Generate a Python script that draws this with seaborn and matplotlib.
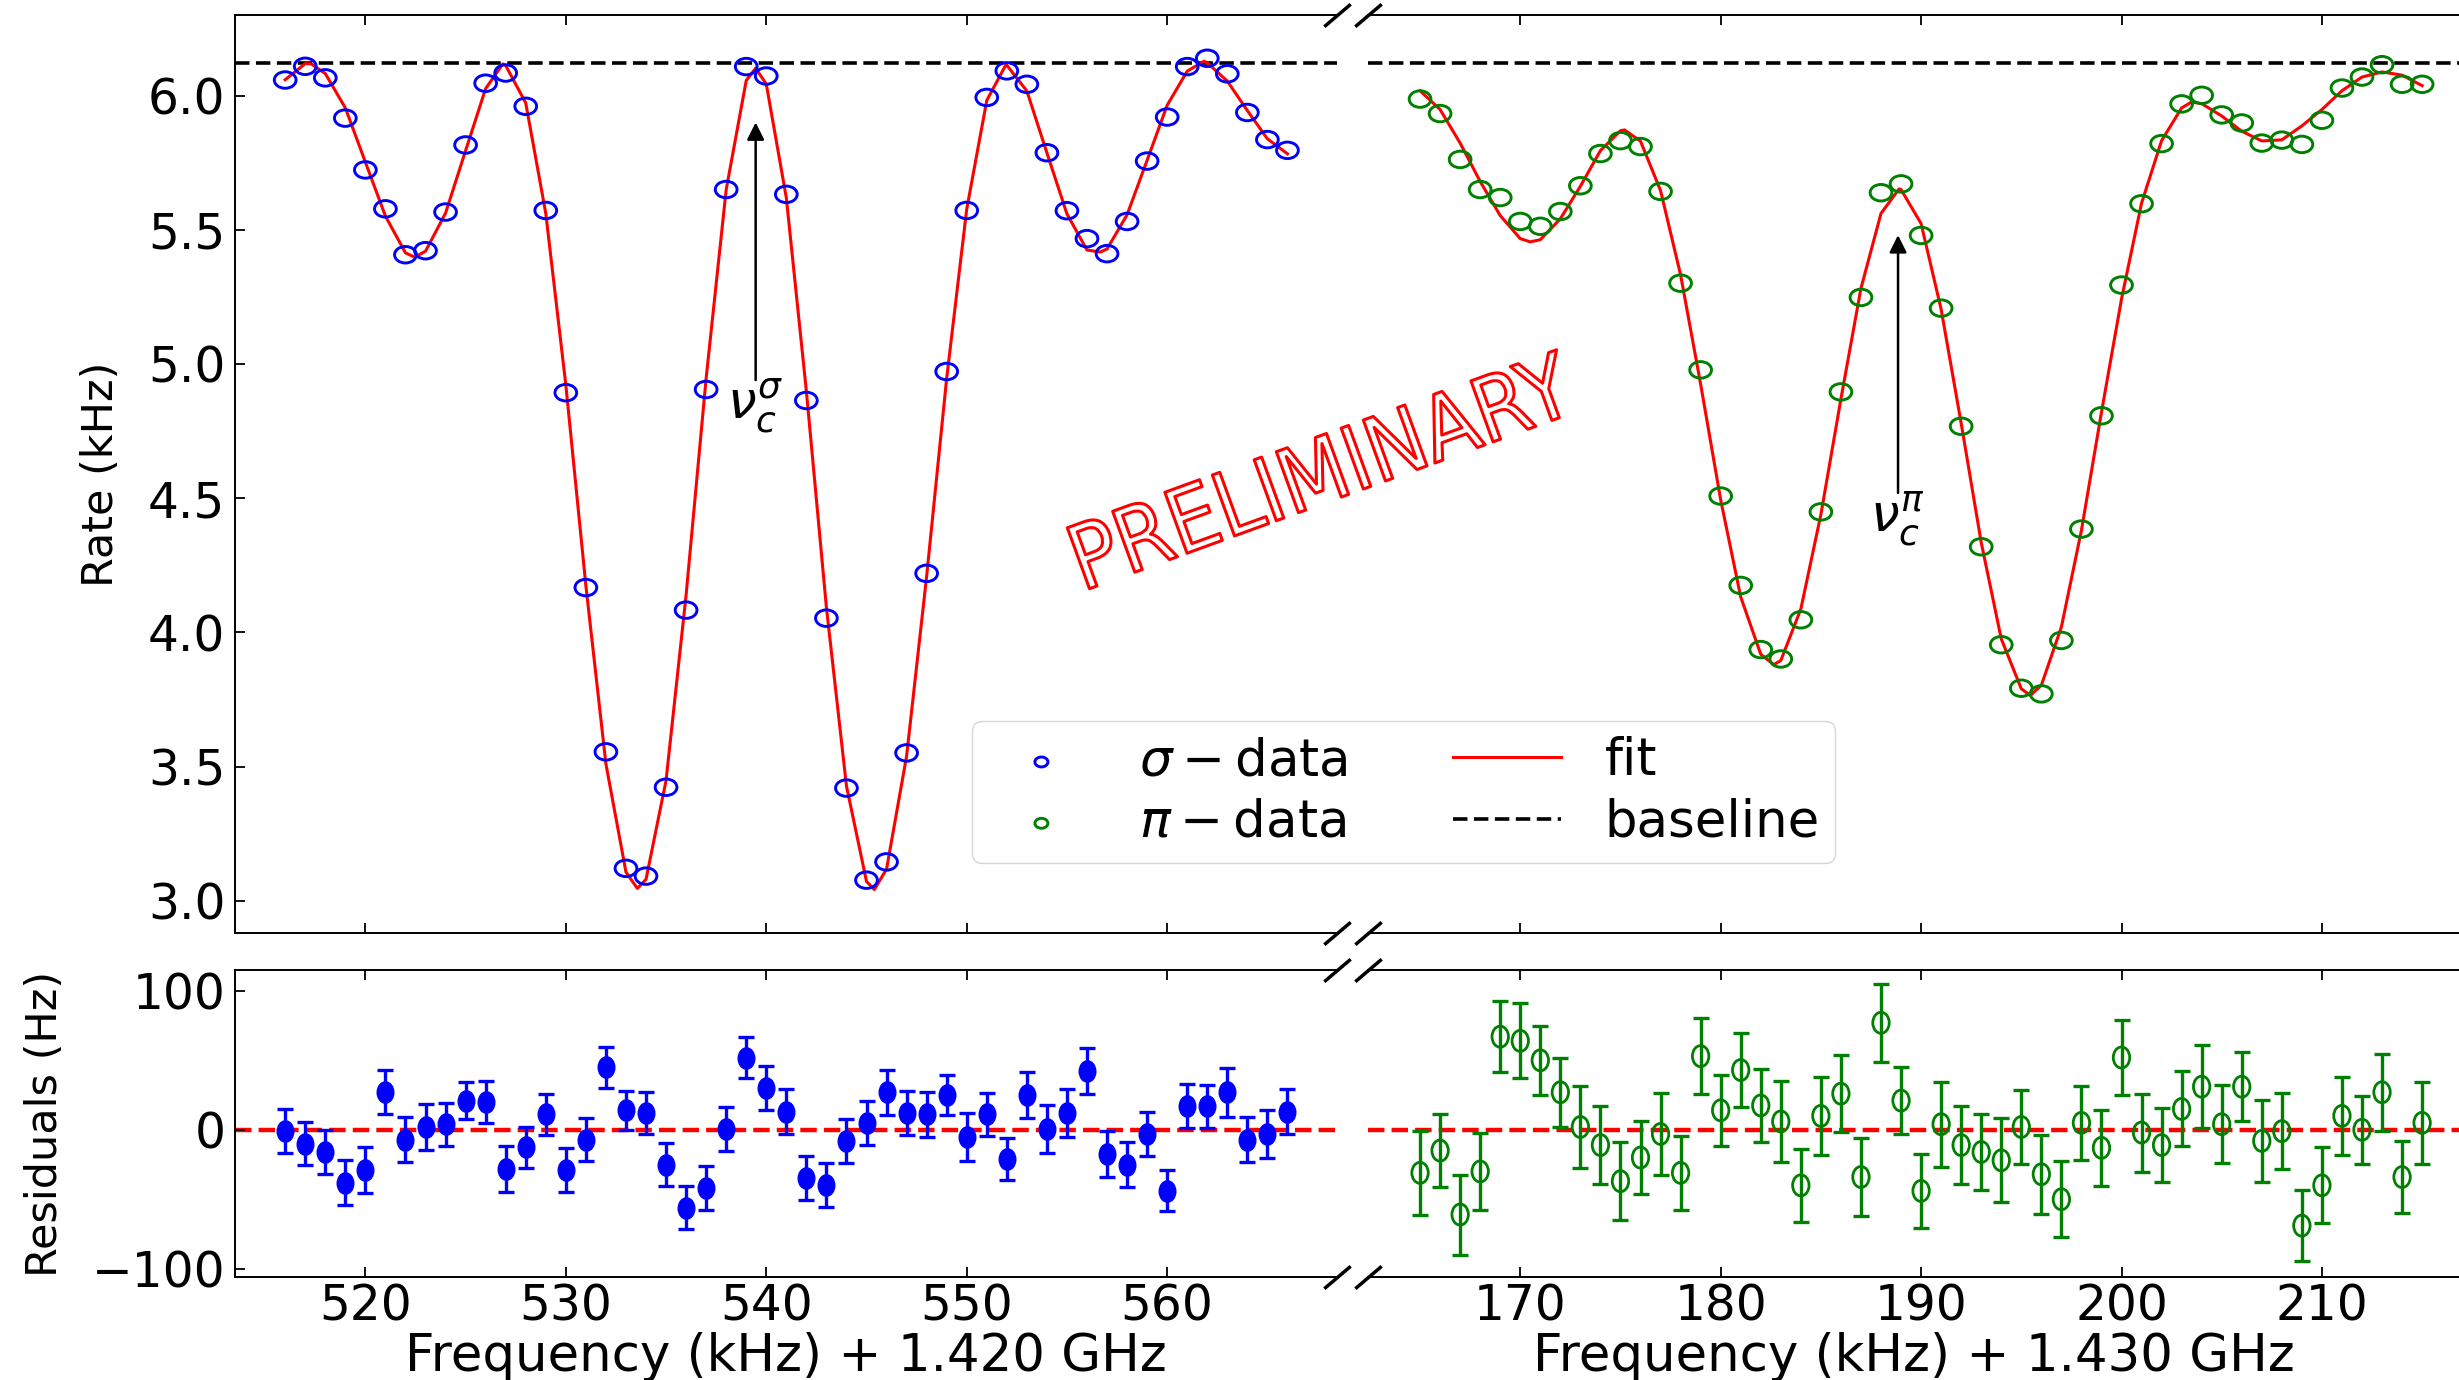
import numpy as np
import pandas as pd
import matplotlib
matplotlib.use("Agg")
import matplotlib.pyplot as plt
import matplotlib.patheffects as pe
from matplotlib.path import Path
from matplotlib import font_manager
import seaborn as sns

# ---------------- data ----------------
sigma_freq = list(range(516, 567))
sigma_rate = [6.058, 6.109, 6.066, 5.916, 5.723, 5.578, 5.407, 5.422, 5.566, 5.816,
              6.046, 6.084, 5.960, 5.572, 4.893, 4.167, 3.555, 3.121, 3.092, 3.423,
              4.083, 4.905, 5.650, 6.108, 6.073, 5.632, 4.864, 4.053, 3.420, 3.077,
              3.145, 3.551, 4.220, 4.972, 5.572, 5.993, 6.092, 6.042, 5.787, 5.571,
              5.467, 5.411, 5.531, 5.756, 5.920, 6.108, 6.139, 6.081, 5.937, 5.836, 5.796]
sigma_resid = [-1, -10, -16, -38, -29, 27, -7, 2, 4, 21,
               20, -28, -12.5, 11, -29, -7, 45, 14, 12, -25,
               -56, -42, 0.5, 52, 30, 13, -35, -40, -8, 5,
               27, 12, 11, 25, -5, 11, -21, 25, 0.5, 12,
               42.5, -17.5, -25, -3, -44, 17, 17, 27, -7, -3, 13]
sigma_err = [15.9, 15.4, 16.0, 16.0, 16.6, 16.0, 16.3, 16.2, 15.6, 13.6,
             14.8, 16.6, 14.7, 14.8, 16.0, 15.6, 14.7, 14.2, 15.1, 15.4,
             15.6, 16.0, 16.1, 14.8, 16.0, 16.3, 15.9, 15.9, 16.0, 15.9,
             16.3, 15.6, 16.0, 14.3, 17.2, 15.4, 15.3, 16.8, 17.3, 17.2,
             16.7, 16.5, 16.3, 16.0, 14.8, 15.9, 15.4, 17.5, 16.0, 17.2, 16.0]

pi_freq = list(range(165, 216))
pi_rate = [5.987, 5.933, 5.762, 5.650, 5.620, 5.531, 5.513, 5.568, 5.664, 5.784,
           5.832, 5.810, 5.643, 5.301, 4.978, 4.508, 4.175, 3.936, 3.901, 4.047,
           4.449, 4.896, 5.248, 5.638, 5.671, 5.479, 5.208, 4.768, 4.319, 3.954,
           3.792, 3.771, 3.970, 4.385, 4.807, 5.294, 5.597, 5.821, 5.969, 6.001,
           5.928, 5.898, 5.823, 5.834, 5.818, 5.908, 6.028, 6.069, 6.115, 6.042, 6.042]
pi_resid = [-31, -15, -61, -30, 67, 64, 50, 27, 2, -11,
            -37, -20, -3, -31, 53, 14, 43, 17.5, 6, -40,
            10, 26, -34, 77, 21, -44, 4, -11, -16, -22,
            2, -32, -50, 5, -13, 52, -2, -11, 15, 31,
            4, 31, -8, -1, -69, -40, 10, 0, 27, -34, 5]
pi_err = [30.0, 26.4, 28.8, 27.6, 25.6, 27.0, 24.9, 25.0, 29.5, 28.0,
          28.0, 26.2, 29.4, 26.8, 27.6, 25.7, 26.8, 26.3, 29.2, 26.2,
          28.2, 27.6, 28.0, 28.2, 24.0, 26.7, 30.6, 28.0, 27.4, 30.2,
          26.8, 28.6, 27.3, 26.8, 27.4, 26.9, 28.1, 26.4, 27.0, 29.7,
          28.2, 24.9, 29.3, 27.4, 25.5, 27.4, 28.2, 24.4, 27.6, 25.6, 29.4]

# turning points of the fitted curves
sigma_fit_ext_freq = [517.3, 522.46, 526.86, 533.57, 539.47, 545.39, 551.97, 556.67, 561.84]
sigma_fit_ext_rate = [6.118, 5.398, 6.118, 3.046, 6.102, 3.042, 6.117, 5.417, 6.128]
pi_fit_ext_freq = [170.5, 175.2, 182.65, 188.9, 195.45, 203.5]
pi_fit_ext_rate = [5.455, 5.872, 3.880, 5.652, 3.765, 5.976]

baseline_rate = 6.12
sigma_center = 539.47
pi_center = 188.85

sigma_xticks = [520, 530, 540, 550, 560]
pi_xticks = [170, 180, 190, 200, 210]
rate_yticks = [3.0, 3.5, 4.0, 4.5, 5.0, 5.5, 6.0]
resid_yticks = [-100, 0, 100]

# ---------------- style ----------------
plt.rcParams.update({
    "font.family": ["DejaVu Sans"],
    "mathtext.fontset": "dejavusans",
    "axes.linewidth": 1.4,
    "xtick.direction": "in",
    "ytick.direction": "in",
})

TICK_FS = 35
XLAB_FS = 37
YLAB_FS = 31

circ = Path.unit_circle()
ell_wide = Path(circ.vertices * np.array([1.0, 0.76]), circ.codes)
ell_tall = Path(circ.vertices * np.array([0.78, 1.0]), circ.codes)

# font for the watermark: a narrow face if one is installed
wm_kw = dict(family="DejaVu Sans", fontsize=56)
_fonts = [(f.name, f.stretch, f.weight) for f in font_manager.fontManager.ttflist]
if any(n == "DejaVu Sans" and s in ("condensed", "semi-condensed") for n, s, w in _fonts):
    wm_kw = dict(family="DejaVu Sans", fontstretch="condensed", fontweight="normal", fontsize=64)
elif any(n == "Liberation Sans Narrow" for n, s, w in _fonts):
    wm_kw = dict(family="Liberation Sans Narrow", fontsize=68)


def fit_frame(freq, rate, resid, ext_f, ext_r):
    f = list(freq) + list(ext_f)
    r = [a - b / 1000.0 for a, b in zip(rate, resid)] + list(ext_r)
    return pd.DataFrame({"freq": f, "fit": r}).sort_values("freq")


fit_s = fit_frame(sigma_freq, sigma_rate, sigma_resid, sigma_fit_ext_freq, sigma_fit_ext_rate)
fit_p = fit_frame(pi_freq, pi_rate, pi_resid, pi_fit_ext_freq, pi_fit_ext_rate)

fig = plt.figure(figsize=(24.59, 13.80), dpi=100)
ax_tl = fig.add_axes([0.0956, 0.3239, 0.4481, 0.6652])
ax_tr = fig.add_axes([0.5563, 0.3239, 0.4437, 0.6652])
ax_bl = fig.add_axes([0.0956, 0.0746, 0.4481, 0.2225])
ax_br = fig.add_axes([0.5563, 0.0746, 0.4437, 0.2225])

# ---- top panels ----
for ax, fit_df, fx, fy, col, lab in [
    (ax_tl, fit_s, sigma_freq, sigma_rate, "b", r"$\sigma - \mathrm{data}$"),
    (ax_tr, fit_p, pi_freq, pi_rate, "g", r"$\pi - \mathrm{data}$"),
]:
    ax.axhline(baseline_rate, color="k", ls=(0, (4, 1.8)), lw=2.6, label="baseline", zorder=1)
    sns.lineplot(data=fit_df, x="freq", y="fit", ax=ax, color="r", lw=2.2,
                 sort=True, estimator=None, legend=False, label="fit", zorder=2)
    sns.scatterplot(x=fx, y=fy, ax=ax, marker=ell_wide, s=245, facecolor="none",
                    edgecolor=col, linewidth=2.1, legend=False, label=lab, zorder=3)
    ax.set_ylim(2.88, 6.30)
    ax.set_xlabel("")
    ax.set_ylabel("")

ax_tl.set_xlim(513.5, 568.47)
ax_tr.set_xlim(162.4, 216.84)

# ---- residual panels ----
ax_bl.errorbar(sigma_freq, sigma_resid, yerr=sigma_err, fmt="none", ecolor="b",
               elinewidth=2.4, capsize=5.5, capthick=2.4, zorder=2)
sns.scatterplot(x=sigma_freq, y=sigma_resid, ax=ax_bl, marker=ell_tall, s=235,
                color="b", edgecolor="b", linewidth=1.0, legend=False, zorder=3)
ax_br.errorbar(pi_freq, pi_resid, yerr=pi_err, fmt="none", ecolor="g",
               elinewidth=2.4, capsize=5.5, capthick=2.4, zorder=2)
sns.scatterplot(x=pi_freq, y=pi_resid, ax=ax_br, marker=ell_tall, s=230,
                facecolor="none", edgecolor="g", linewidth=2.0, legend=False, zorder=3)
for ax in (ax_bl, ax_br):
    ax.axhline(0, color="r", ls="--", lw=3.2, zorder=1)
    ax.set_ylim(-106, 115)
ax_bl.set_xlim(513.5, 568.47)
ax_br.set_xlim(162.4, 216.84)

# ---- ticks / spines ----
for ax in (ax_tl, ax_bl):
    ax.spines["right"].set_visible(False)
    ax.tick_params(axis="both", direction="in", top=True, right=False, length=7,
                   width=1.3, labelsize=TICK_FS, pad=7)
for ax in (ax_tr, ax_br):
    ax.spines["left"].set_visible(False)
    ax.spines["right"].set_visible(False)
    ax.tick_params(axis="both", direction="in", top=True, right=False, left=False,
                   labelleft=False, length=7, width=1.3, labelsize=TICK_FS, pad=7)
for ax in (ax_tl, ax_tr):
    ax.tick_params(axis="x", labelbottom=False)
for ax in (ax_bl, ax_br):
    ax.tick_params(axis="x", pad=4)

ax_tl.set_xticks(sigma_xticks)
ax_bl.set_xticks(sigma_xticks)
ax_tr.set_xticks(pi_xticks)
ax_br.set_xticks(pi_xticks)
ax_tl.set_yticks(rate_yticks)
ax_bl.set_yticks(resid_yticks)
ax_tl.set_yticklabels([f"{v:.1f}" for v in rate_yticks])

ax_tl.set_ylabel("Rate (kHz)", fontsize=YLAB_FS)
ax_bl.set_ylabel("Residuals (Hz)", fontsize=YLAB_FS)
ax_tl.yaxis.set_label_coords(-0.1025, 0.5)
ax_bl.yaxis.set_label_coords(-0.1534, 0.5)
ax_bl.set_xlabel("Frequency (kHz) + 1.420 GHz", fontsize=XLAB_FS)
ax_br.set_xlabel("Frequency (kHz) + 1.430 GHz", fontsize=XLAB_FS)
ax_bl.xaxis.set_label_coords(0.5, -0.178)
ax_br.xaxis.set_label_coords(0.5, -0.178)
ax_tr.set_ylabel("")
ax_br.set_ylabel("")

# ---- break marks ----
brk = dict(marker=[(-1, -0.85), (1, 0.85)], markersize=19, linestyle="none",
           color="k", mec="k", mew=2.5, clip_on=False)
for axl, axr in ((ax_tl, ax_tr), (ax_bl, ax_br)):
    axl.plot([1, 1], [0, 1], transform=axl.transAxes, **brk)
    axr.plot([0, 0], [0, 1], transform=axr.transAxes, **brk)

# ---- annotations ----
arrow = dict(arrowstyle="-|>", color="k", lw=1.8, mutation_scale=26, shrinkA=0, shrinkB=0)
ax_tl.annotate("", xy=(sigma_center, 5.90), xytext=(sigma_center, 4.94), arrowprops=arrow)
ax_tl.text(sigma_center, 4.84, r"$\nu_c^\sigma$", fontsize=37, ha="center", va="center")
ax_tr.annotate("", xy=(pi_center, 5.48), xytext=(pi_center, 4.52), arrowprops=arrow)
ax_tr.text(pi_center, 4.42, r"$\nu_c^\pi$", fontsize=37, ha="center", va="center")

fig.text(0.5376, 0.6536, "PRELIMINARY", rotation=20, color="white",
         ha="center", va="center",
         path_effects=[pe.Stroke(linewidth=2.2, foreground="red")], **wm_kw)

# ---- legend ----
h1, l1 = ax_tl.get_legend_handles_labels()
h2, l2 = ax_tr.get_legend_handles_labels()
hd = dict(zip(l1 + l2, h1 + h2))
order = [r"$\sigma - \mathrm{data}$", r"$\pi - \mathrm{data}$", "fit", "baseline"]
fig.legend([hd[k] for k in order], order, loc="upper left",
           bbox_to_anchor=(0.3953, 0.4775), borderaxespad=0.0, ncol=2, fontsize=37,
           markerscale=0.6, handlelength=2.1, handletextpad=0.85, columnspacing=2.05,
           labelspacing=0.22, borderpad=0.3, frameon=True, fancybox=True,
           framealpha=0.8, edgecolor="0.8")

fig.savefig("out.png", dpi=100)
